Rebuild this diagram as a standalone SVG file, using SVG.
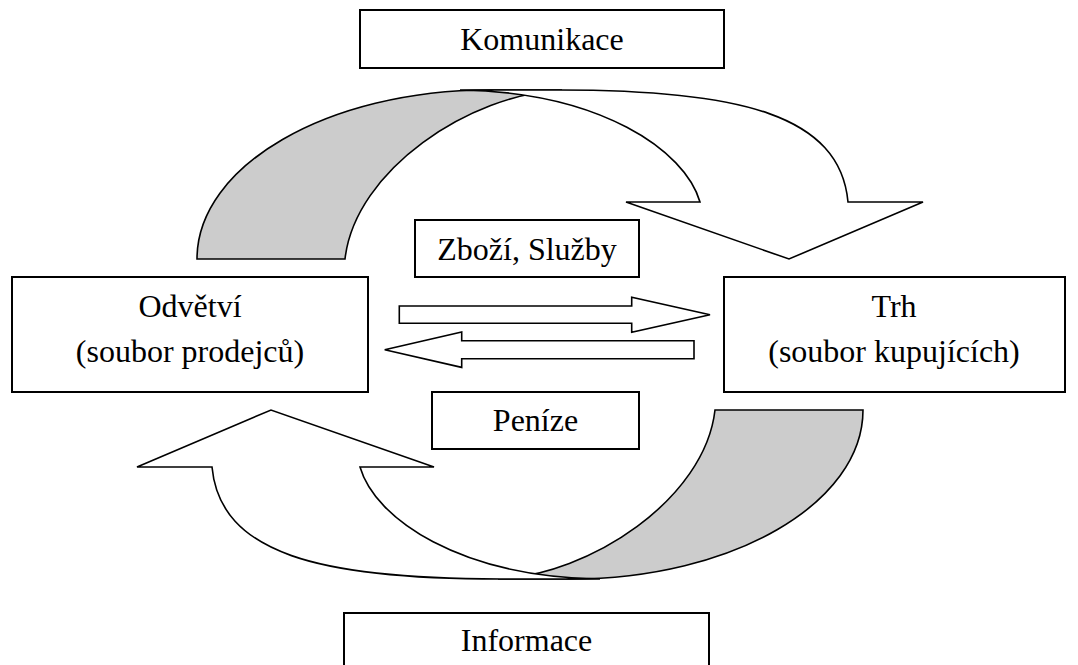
<svg xmlns="http://www.w3.org/2000/svg" xmlns:xlink="http://www.w3.org/1999/xlink" width="1078" height="665" viewBox="0 0 1078 665">
  <style>
    .box { fill: #ffffff; stroke: #000000; stroke-width: 2; }
    .lbl { font-family: "Liberation Serif", "Times New Roman", serif; font-size: 32px; fill: #000000; text-anchor: middle; }
    .arr { fill: #ffffff; stroke: #000000; stroke-width: 1.6; stroke-linejoin: miter; }
    .back { fill: #cccccc; stroke: #000000; stroke-width: 1.6; }
  </style>
  <defs>
    <g id="curvedArrow">
      <path class="back" d="M197,259 C197,165.7 327.7,90 489,90 L562,90 C470,94 355,170 345,259 Z"/>
      <path class="arr" d="M460,90 L560,90 C740,90 840,115 848,202 L923,202 L789,259 L626,202 L700,202 C685,150 600,92 460,90 Z"/>
    </g>
  </defs>
  <rect width="1078" height="665" fill="#ffffff"/>

  <g id="connectors">
    <use xlink:href="#curvedArrow" href="#curvedArrow"/>
    <use xlink:href="#curvedArrow" href="#curvedArrow" transform="rotate(180 530 334.5)"/>
    <polygon class="arr" points="399.3,306 631.7,306 631.7,297.3 710,314.7 631.7,332.3 631.7,323.3 399.3,323.3"/>
    <polygon class="arr" points="694,340.7 461.7,340.7 461.7,332 384.7,349.7 461.7,367.4 461.7,358.7 694,358.7"/>
  </g>

  <g id="komunikace">
    <rect class="box" x="360" y="10" width="364" height="58"/>
    <text class="lbl" x="542" y="50">Komunikace</text>
  </g>
  <g id="zbozi-sluzby">
    <rect class="box" x="415" y="220" width="224" height="57"/>
    <text class="lbl" x="527" y="260">Zboží, Služby</text>
  </g>
  <g id="odvetvi">
    <rect class="box" x="12" y="277" width="356" height="115"/>
    <text class="lbl" x="190" y="317">Odvětví</text>
    <text class="lbl" x="190" y="362">(soubor prodejců)</text>
  </g>
  <g id="trh">
    <rect class="box" x="724" y="277" width="341" height="115"/>
    <text class="lbl" x="894" y="317">Trh</text>
    <text class="lbl" x="894" y="362">(soubor kupujících)</text>
  </g>
  <g id="penize">
    <rect class="box" x="432" y="392" width="207" height="57"/>
    <text class="lbl" x="535.5" y="431">Peníze</text>
  </g>
  <g id="informace">
    <rect class="box" x="344" y="613" width="365" height="60"/>
    <text class="lbl" x="526.5" y="651">Informace</text>
  </g>
</svg>
